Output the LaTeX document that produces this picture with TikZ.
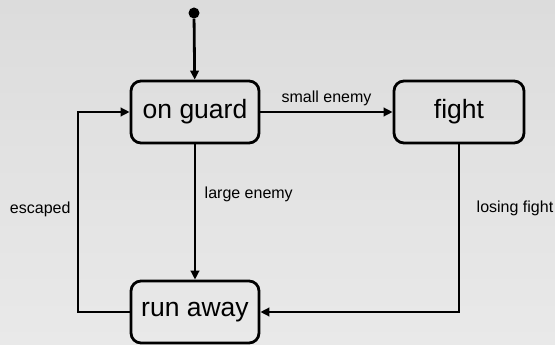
\documentclass[tikz,border=0pt]{standalone}
\usepackage{fontspec}
\setmainfont{Liberation Sans}
\usetikzlibrary{arrows.meta}

\definecolor{bgtop}{RGB}{220,220,220}
\definecolor{bgbottom}{RGB}{233,233,233}

\tikzset{
  state/.style={draw, line width=2.8pt, rounded corners=10pt, minimum width=128pt,
    minimum height=62pt, font=\fontsize{26.5}{31}\selectfont},
  flow/.style={line width=2.8pt, -{Triangle[length=9pt,width=8.5pt]}},
  edgelabel/.style={font=\fontsize{16}{19}\selectfont}
}

\begin{document}
\begin{tikzpicture}[x=1pt, y=-1pt]
  % background
  \shade[top color=bgtop, bottom color=bgbottom] (0,0) rectangle (555,345);
  \useasboundingbox (0,0) rectangle (555,345);
  % states
  \node[circle, fill, inner sep=0pt, minimum size=11pt] (start) at (194,13) {};
  \node[state] (guard) at (195,112) {on guard};
  \node[state, minimum width=130pt] (fight) at (459,112) {fight};
  \node[state] (run) at (195,312) {run away};
  \coordinate (escTop) at (78,112);
  % transitions
  \draw[flow] (start) -- (guard);
  \draw[flow] (guard) -- node[edgelabel, above, yshift=1pt] {small enemy} (fight);
  \draw[flow] (guard) -- node[edgelabel, right, pos=0.37, xshift=5pt] {large enemy} (run);
  \draw[flow] (fight.south) |- node[edgelabel, right, pos=0.19, xshift=13pt] {losing fight} (run.east);
  \draw[flow] (run.west) -| (escTop) -- (guard.west);
  \node[edgelabel, anchor=east] (escLabel) at (74,209) {escaped};
\end{tikzpicture}
\end{document}
